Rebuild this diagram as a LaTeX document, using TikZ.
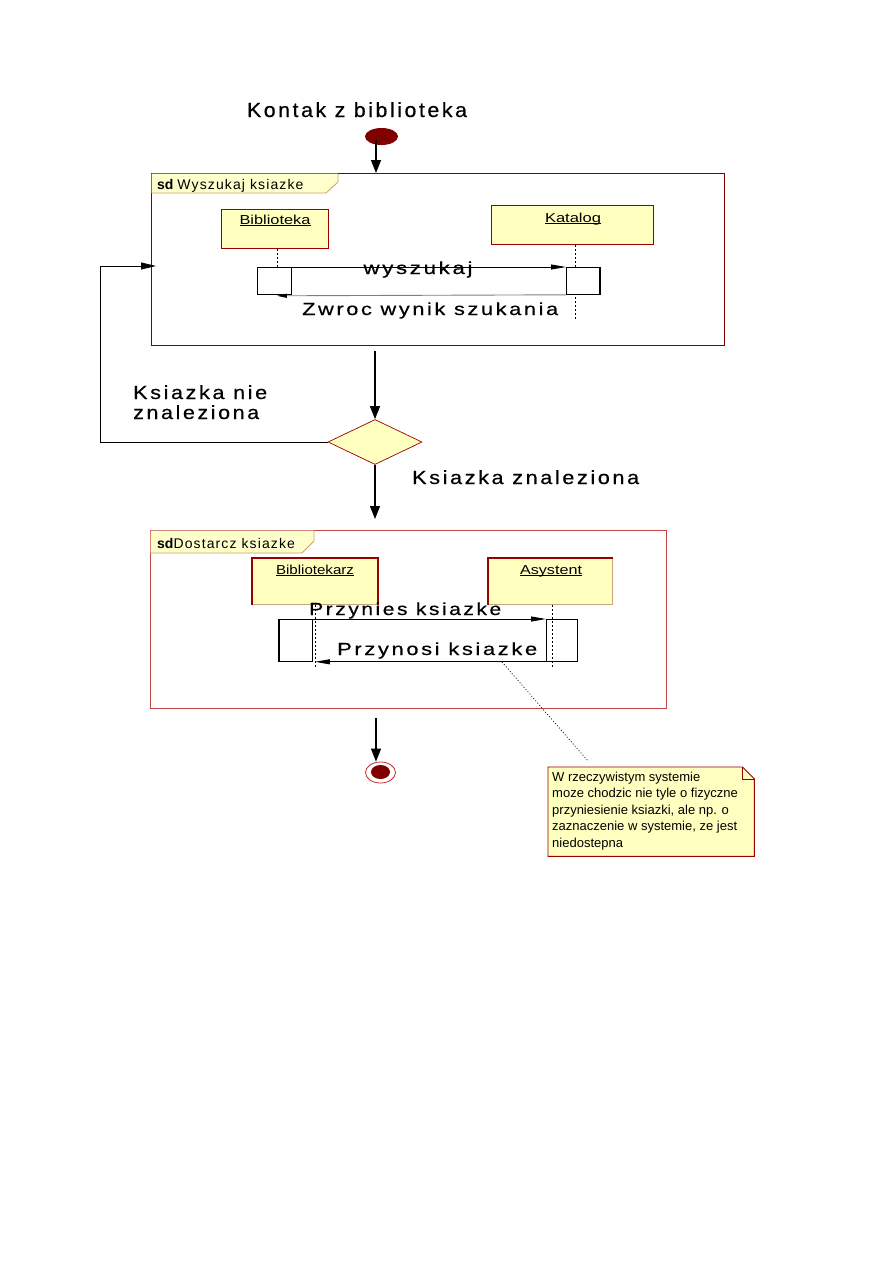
\documentclass[tikz,border=0pt]{standalone}
\usepackage{graphicx}
\usepackage{fontspec}
\setmainfont{Liberation Sans}
\newfontfamily\lsf[LetterSpace=12,FakeBold=0.4]{Liberation Sans}
\newfontfamily\tabf[LetterSpace=8]{Liberation Sans}
\usetikzlibrary{shapes.geometric,arrows.meta}
\definecolor{frameredA}{HTML}{800000}
\definecolor{frameredB}{HTML}{C04848}
\definecolor{objred}{HTML}{990000}
\definecolor{objyellow}{HTML}{FFFFC0}
\definecolor{tabyellow}{HTML}{FFFFCC}
\definecolor{tabbrd}{HTML}{C8A060}
\definecolor{startred}{HTML}{800000}
\definecolor{endred}{HTML}{C03030}
\definecolor{tanbrd}{HTML}{C8A878}
\newcommand\fitw[2]{\resizebox{#1}{\height}{#2}}
\newcommand\biglbl[3]{\fitw{#1}{\fontsize{#2}{#2}\lsf #3}}
\newcommand\objlbl[2]{\resizebox*{#1}{\totalheight}{\fontsize{13}{13}\selectfont\underline{\smash{#2}}}}
\begin{document}
\begin{tikzpicture}[x=1pt,y=-1pt,
  flow/.style={line width=1.1pt,-{Triangle[length=13pt,width=10pt]}},
  msg/.style={line width=0.9pt,-{Triangle[length=15pt,width=5pt]}},
  retmsg/.style={line width=0.9pt,draw=gray,-{Triangle[length=10pt,width=4pt,color=black]}},
  lifeline/.style={line width=0.7pt,dash pattern=on 2pt off 2pt},
  notelink/.style={line width=0.7pt,dash pattern=on 1pt off 2pt},
  frm/.style={rectangle,line width=0.9pt,anchor=north west,inner sep=0},
  obj/.style={rectangle,draw=objred,fill=objyellow,line width=0.9pt,anchor=north west,inner sep=0},
  act/.style={rectangle,draw=black,line width=0.8pt,anchor=north west,inner sep=0,fill=white},
  lbl/.style={inner sep=0,anchor=base west},
  notetext/.style={inner sep=0,anchor=base west,font=\fontsize{13}{13}\selectfont}]
\useasboundingbox[fill=white] (0,0) rectangle (893,1263);

% title and start
\node[lbl,anchor=base] (title) at (357,117) {\biglbl{220pt}{20.5}{Kontak z biblioteka}};
\node[ellipse,fill=startred,minimum width=33pt,minimum height=17pt,inner sep=0] (start) at (381.5,136.5) {};

% frame 1
\node[frm,draw=frameredA,minimum width=573pt,minimum height=172pt] (frame1) at (151,173) {};
\fill[tabyellow] (151.5,173.5) -- (338,173.5) -- (338,182) -- (326,193) -- (151.5,193) -- cycle;
\draw[tabbrd,line width=0.8pt] (338,174) -- (338,182) -- (326,193) -- (151.5,193);
\node[lbl] (tab1) at (157,189) {\fontsize{14}{14}\selectfont\textbf{sd} \tabf Wyszukaj ksiazke};

\node[obj,minimum width=107pt,minimum height=39pt] (bib) at (221,209) {};
\node[lbl,anchor=base] (bibl) at (275,224) {\objlbl{71pt}{Biblioteka}};
\node[obj,minimum width=162pt,minimum height=39pt] (kat) at (491,205) {};
\node[lbl,anchor=base] (katl) at (573,222) {\objlbl{56pt}{Katalog}};

\draw[lifeline] ([xshift=2pt]bib.south) -- ++(0,19);
\draw[lifeline] ([xshift=3pt]kat.south) -- ++(0,74);

\node[act,minimum width=34pt,minimum height=27pt] (al1) at (257,267) {};
\node[act,minimum width=33pt,minimum height=27pt] (ar1) at (566,267) {};
\draw[line width=1.8pt] (ar1.north east) -- (ar1.south east);
\node[lbl,anchor=base] (wysz) at (418,274) {\biglbl{109pt}{17.5}{wyszukaj}};
\draw[msg] (al1.north east) -- (ar1.north west);
\coordinate (ret1) at ([xshift=2pt,yshift=-1pt]bib.south |- al1.south);
\draw[retmsg] (ar1.south west) -- (ret1);
\node[lbl] (zwroc) at (302,315) {\biglbl{256pt}{17.5}{Zwroc wynik szukania}};

% start arrow
\draw[flow] ([xshift=-5.5pt,yshift=-3pt]start.center) -- ([xshift=-5.5pt]start.center |- frame1.north);

% decision
\node[diamond,draw=objred,fill=objyellow,minimum width=94pt,minimum height=45pt,inner sep=0,line width=0.7pt] (dia) at (375,442) {};
\draw[flow] ([yshift=-5pt]dia.north |- frame1.south) -- (dia.north);
\coordinate (loopc) at (100,266);
\draw[line width=1pt,-{Triangle[length=15pt,width=7pt]}] (dia.west) -| (loopc) -- ([xshift=5pt]loopc -| frame1.west);
\node[lbl] (nz1) at (133,399) {\biglbl{134pt}{19}{Ksiazka nie}};
\node[lbl] (nz2) at (133,419) {\biglbl{126pt}{19}{znaleziona}};
\node[lbl] (zn) at (412,484) {\biglbl{227pt}{19}{Ksiazka znaleziona}};

% frame 2
\node[frm,draw=frameredB,minimum width=516pt,minimum height=178pt] (frame2) at (150,530) {};
\draw[flow] (dia.south) -- ([yshift=11pt]dia.south |- frame2.north);
\fill[tabyellow] (150.5,530.5) -- (314,530.5) -- (314,541) -- (302,553) -- (150.5,553) -- cycle;
\draw[tabbrd,line width=0.8pt] (314,531) -- (314,541) -- (302,553) -- (150.5,553);
\node[lbl] (tab2) at (157,548) {\fontsize{14}{14}\selectfont\textbf{sd}\tabf Dostarcz ksiazke};

\node[obj,draw=tanbrd,minimum width=125pt,minimum height=46pt] (bk) at (252,558) {};
\draw[objred,line width=1.4pt] (bk.south west) -- (bk.north west) -- (bk.north east) -- (bk.south east);
\node[lbl,anchor=base] (bkl) at (315,574) {\objlbl{78pt}{Bibliotekarz}};
\node[obj,draw=tanbrd,minimum width=124pt,minimum height=46pt] (as) at (488,558) {};
\draw[objred,line width=1.4pt] (as.south west) -- (as.north west) -- (as.north east);
\node[lbl,anchor=base] (asl) at (551,574) {\objlbl{62pt}{Asystent}};

\node[act,minimum width=33pt,minimum height=42pt] (al2) at (279,619) {};
\node[act,minimum width=31pt,minimum height=42pt] (ar2) at (546,619) {};
\draw[line width=1.8pt] (al2.north west) -- (al2.south west);
\draw[lifeline] (bk.south) -- ++(0,63);
\draw[lifeline] ([xshift=2pt]as.south) -- ++(0,63);
\node[lbl] (przy1) at (309,615) {\biglbl{192pt}{17.5}{Przynies ksiazke}};
\draw[msg] (al2.north east) -- (ar2.north west);
\node[lbl] (przy2) at (337,655) {\biglbl{200pt}{17.5}{Przynosi ksiazke}};
\draw[msg] (ar2.south west) -- (al2.south east -| bk.south);

% end
\node[ellipse,draw=endred,fill=white,line width=0.8pt,minimum width=30pt,minimum height=21pt,inner sep=0] (endo) at (380.5,772.5) {};
\node[ellipse,fill=startred,minimum width=19pt,minimum height=14pt,inner sep=0] (endi) at (380.5,772) {};
\draw[flow] ([xshift=-4.5pt,yshift=-9pt]endo.north |- frame2.south) -- ([xshift=-4.5pt]endo.north);

% note
\node[rectangle,anchor=north west,inner sep=0,minimum width=206pt,minimum height=89pt] (note) at (548,767) {};
\draw[objred,line width=0.9pt,fill=objyellow] (note.north west) -- ([xshift=-12pt]note.north east) -- ([yshift=-12pt]note.north east) -- (note.south east) -- (note.south west) -- cycle;
\draw[objred,line width=0.7pt] ([xshift=-12pt]note.north east) -- ([xshift=-12pt,yshift=-12pt]note.north east) -- ([yshift=-12pt]note.north east);
\node[notetext] (n1) at (552,781) {W rzeczywistym systemie};
\node[notetext] (n2) at (552,797.5) {moze chodzic nie tyle o fizyczne};
\node[notetext] (n3) at (552,814) {przyniesienie ksiazki, ale np. o};
\node[notetext] (n4) at (552,830.5) {zaznaczenie w systemie, ze jest};
\node[notetext] (n5) at (552,847) {niedostepna};
\coordinate (nc) at (502,662);
\draw[notelink] (nc) -- ([xshift=40pt,yshift=6pt]note.north west);
\end{tikzpicture}
\end{document}
